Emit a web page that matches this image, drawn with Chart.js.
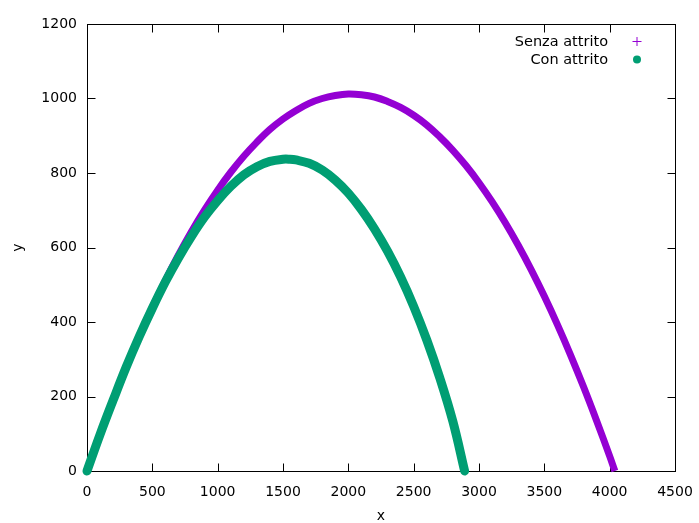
<!DOCTYPE html>
<html><head><meta charset="utf-8">
<script src="https://cdn.jsdelivr.net/npm/chart.js@4/dist/chart.umd.min.js"></script>
<style>html,body{margin:0;padding:0;background:#fff}#wrap{width:699px;height:523px}</style>
</head><body><div id="wrap"><canvas id="c" width="699" height="523"></canvas></div>
<script>
const seriesNames = ['Senza attrito', 'Con attrito'];
const xTicks = [0, 500, 1000, 1500, 2000, 2500, 3000, 3500, 4000, 4500];
const yTicks = [0, 200, 400, 600, 800, 1000, 1200];
const axisTitles = ['x', 'y'];

const senzaX = [0,100,200,300,400,500,600,700,800,900,1000,1100,1200,1300,1400,1500,1600,1700,1800,1900,2000,2100,2200,2300,2400,2500,2600,2700,2800,2900,3000,3100,3200,3300,3400,3500,3600,3700,3800,3900,4000,4040];
const senzaY = [0,98,190,278,361,439,512,580,643,701,754,802,845,883,917,945,968,987,1000,1008,1012,1010,1004,992,976,955,929,897,861,820,774,723,667,606,540,469,393,312,226,135,40,0];

const conX = [0,100,200,300,400,500,600,700,800,900,1000,1100,1200,1300,1400,1500,1550,1600,1700,1800,1900,2000,2100,2200,2300,2400,2500,2600,2700,2800,2890];
const conY = [0,98,190,279,361,437,508,572,630,682,726,764,795,817,831,837,837,835,826,808,781,746,702,650,590,521,442,352,250,133,0];

const purple = '#9400d3';
const green = '#009e73';
const FONT = 'DejaVu Sans';

const toPts = (xs, ys) => xs.map((v, i) => ({x: v, y: ys[i]}));

const framePlugin = {
  id: 'frame',
  beforeDatasetsDraw(chart) {
    const {ctx, chartArea: a, scales: {x, y}} = chart;
    ctx.save();
    ctx.strokeStyle = '#000';
    ctx.lineWidth = 1;
    const L = Math.round(a.left) + 0.5, R = Math.round(a.right) + 0.5;
    const T = Math.round(a.top) + 0.5, B = Math.round(a.bottom) + 0.5;
    ctx.beginPath();
    xTicks.forEach(v => {
      const p = Math.round(x.getPixelForValue(v)) + 0.5;
      ctx.moveTo(p, B); ctx.lineTo(p, B - 8);
      ctx.moveTo(p, T); ctx.lineTo(p, T + 8);
    });
    yTicks.forEach(v => {
      const p = Math.round(y.getPixelForValue(v)) + 0.5;
      ctx.moveTo(L, p); ctx.lineTo(L + 8, p);
      ctx.moveTo(R, p); ctx.lineTo(R - 8, p);
    });
    ctx.stroke();
    ctx.strokeRect(L, T, R - L, B - T);
    ctx.restore();
  }
};

const keyPlugin = {
  id: 'gkey',
  afterDraw(chart) {
    const {ctx} = chart;
    ctx.save();
    ctx.font = '14.5px "' + FONT + '"';
    ctx.textAlign = 'right';
    ctx.textBaseline = 'middle';
    const rows = [41, 59];
    seriesNames.forEach((name, i) => {
      const yy = rows[i];
      ctx.fillStyle = '#000';
      ctx.fillText(name, 608, yy + 1);
      if (i === 0) {
        ctx.strokeStyle = purple; ctx.lineWidth = 1;
        ctx.beginPath();
        ctx.moveTo(632.5, yy + 0.5); ctx.lineTo(641.5, yy + 0.5);
        ctx.moveTo(637, yy - 4); ctx.lineTo(637, yy + 5);
        ctx.stroke();
      } else {
        ctx.fillStyle = green;
        ctx.beginPath(); ctx.arc(637, yy + 0.5, 4, 0, Math.PI * 2); ctx.fill();
      }
    });
    ctx.restore();
  }
};

new Chart(document.getElementById('c'), {
  type: 'scatter',
  data: {
    datasets: [
      {label: seriesNames[0], data: toPts(senzaX, senzaY), showLine: true, borderColor: purple, backgroundColor: purple,
       borderWidth: 7, pointRadius: 0, tension: 0.4, borderCapStyle: 'butt', borderJoinStyle: 'round', clip: false, order: 1},
      {label: seriesNames[1], data: toPts(conX, conY), showLine: true, borderColor: green, backgroundColor: green,
       borderWidth: 9, pointRadius: 0, tension: 0.4, borderCapStyle: 'round', borderJoinStyle: 'round', clip: false, order: 0}
    ]
  },
  options: {
    responsive: false,
    animation: false,
    layout: {padding: {left: 0, right: 24, top: 24, bottom: 0}},
    plugins: {legend: {display: false}, tooltip: {enabled: false}},
    scales: {
      x: {
        type: 'linear', min: 0, max: 4500,
        afterFit: s => { s.height = 52; s.paddingLeft = 0; s.paddingRight = 0; },
        afterBuildTicks: s => { s.ticks = xTicks.map(v => ({value: v})); },
        grid: {display: false, drawTicks: false, tickLength: 0},
        border: {display: false},
        ticks: {padding: 13, color: '#000', font: {family: FONT, size: 14}, maxRotation: 0, callback: v => String(v)},
        title: {display: true, text: axisTitles[0], color: '#000', font: {family: FONT, size: 14, lineHeight: 1}, padding: {top: 0, bottom: 0}}
      },
      y: {
        type: 'linear', min: 0, max: 1200,
        afterFit: s => { s.width = 87; s.paddingTop = 0; s.paddingBottom = 0; },
        afterBuildTicks: s => { s.ticks = yTicks.map(v => ({value: v})); },
        grid: {display: false, drawTicks: false, tickLength: 0},
        border: {display: false},
        ticks: {padding: 10, color: '#000', font: {family: FONT, size: 14}, callback: v => String(v)},
        title: {display: true, text: axisTitles[1], color: '#000', font: {family: FONT, size: 14, lineHeight: 1}, padding: {top: 11, bottom: 0}}
      }
    }
  },
  plugins: [framePlugin, keyPlugin]
});
</script>
</body></html>
